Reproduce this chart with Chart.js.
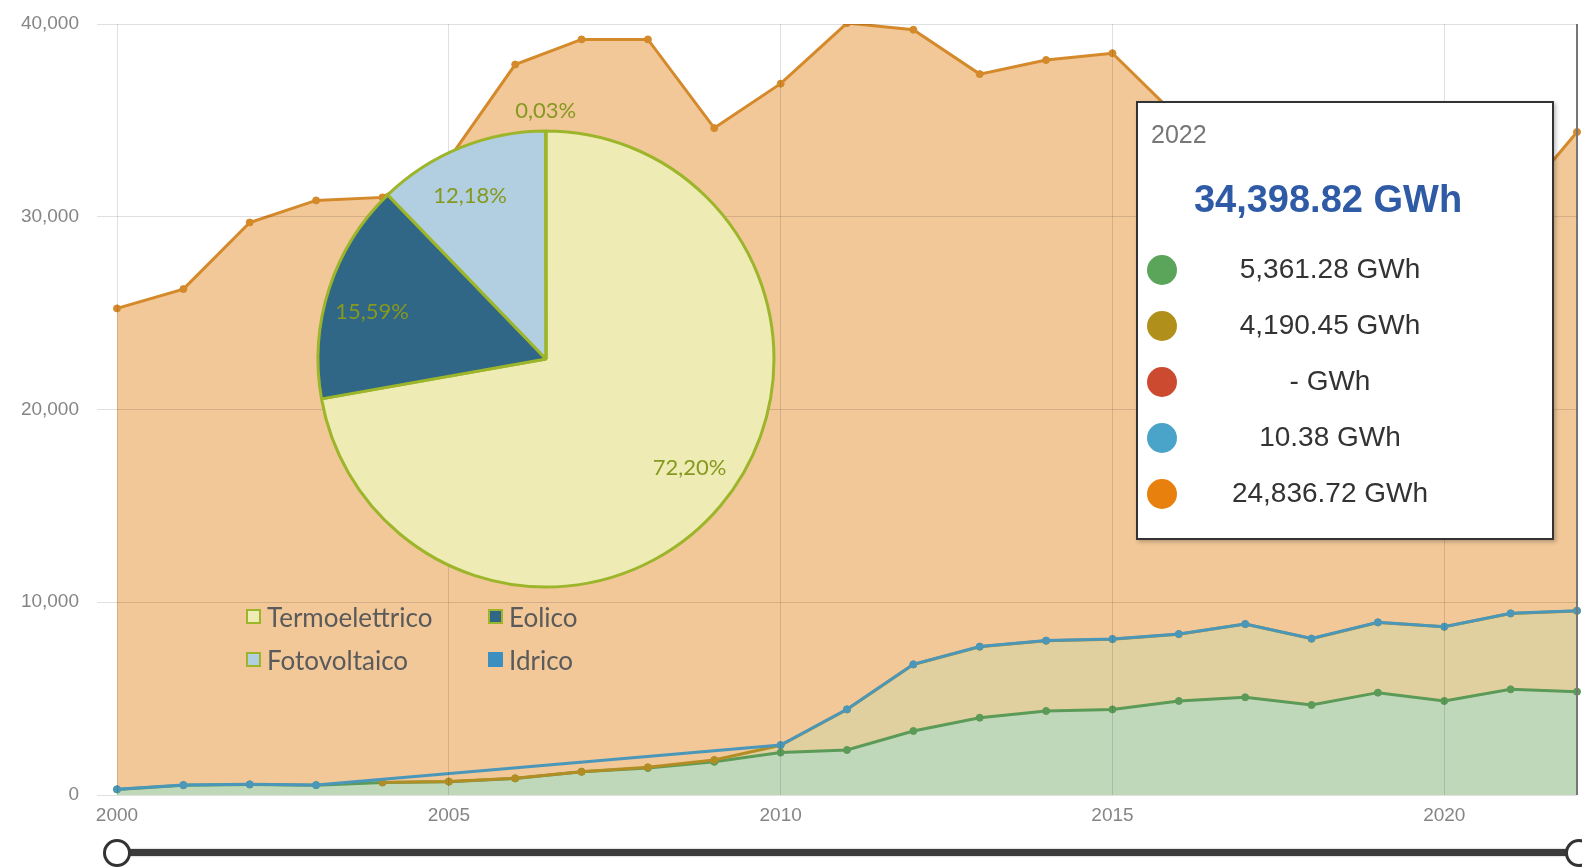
<!DOCTYPE html>
<html>
<head>
<meta charset="utf-8">
<script src="https://cdn.jsdelivr.net/npm/chart.js@4.4.1/dist/chart.umd.min.js"></script>
<style>
  body { margin: 0; background: #fff; overflow: hidden; font-family: "Liberation Sans", Arial, sans-serif; }
  #wrap { position: relative; width: 1582px; height: 868px; }
  #mainBox { position: absolute; left: 0; top: 0; width: 1582px; height: 830px; }
  #pieBox { position: absolute; left: 266px; top: 79px; width: 560px; height: 560px; }
  #pieLegend { position: absolute; left: 246px; top: 595px; display: grid; grid-template-columns: 242px auto; grid-auto-rows: 43px;
               font-family: Lato, "Open Sans", sans-serif; font-size: 26px; color: #5a5a5a; }
  #pieLegend .it { display: flex; align-items: center; }
  #pieLegend .sw { width: 11px; height: 11px; border: 2.5px solid #9cb52a; margin-right: 6px; }
  #tip { position: absolute; left: 1136px; top: 101px; width: 414px; height: 435px; background: #fff;
         border: 2px solid #333; box-shadow: 2px 2px 4px rgba(0,0,0,0.25); }
  #tip .yr { position: absolute; left: 13px; top: 17px; font-size: 25px; line-height: 28px; color: #777; }
  #tip .tot { position: absolute; left: 0; width: 380px; top: 74px; text-align: center; font-size: 38px; line-height: 44px;
              font-weight: bold; color: #2e5aa6; }
  #tip .row { position: absolute; left: 0; width: 384px; height: 40px; }
  #tip .dot { position: absolute; left: 9px; top: 4px; width: 30px; height: 30px; border-radius: 50%; }
  #tip .val { position: absolute; left: 0; width: 384px; text-align: center; top: 2px; font-size: 28px; line-height: 32px; color: #333; }
  #slLine { position: absolute; left: 117px; top: 849px; width: 1462px; height: 7px; background: #3b3b3b;
            box-shadow: 0 0 2px rgba(0,0,0,0.4); }
  .knob { position: absolute; top: 839px; width: 22px; height: 22px; border: 3px solid #333; border-radius: 50%; background: #fff; }
</style>
</head>
<body>
<div id="wrap">
  <div id="mainBox"><canvas id="mainChart"></canvas></div>
  <div id="pieBox"><canvas id="pieChart"></canvas></div>
  <div id="pieLegend"></div>
  <div id="tip"></div>
  <div id="slLine"></div>
  <div class="knob" style="left:103px"></div>
  <div class="knob" style="left:1565px"></div>
</div>
<script>
// Years on the x axis
const years = [2000, 2001, 2002, 2003, 2004, 2005, 2006, 2007, 2008, 2009, 2010, 2011,
               2012, 2013, 2014, 2015, 2016, 2017, 2018, 2019, 2020, 2021, 2022];

// Production by source, GWh (null = no data, shown as "-")
const eolico = [290, 510, 545, 510, 650, 690, 860, 1200, 1400, 1720, 2200, 2335,
                3320, 4010, 4360, 4440, 4880, 5070, 4670, 5310, 4880, 5480, 5361.277];
const fotovoltaico = [null, null, null, null, 5, 5, 8, 12, 40, 100, 380, 2100,
                      3450, 3680, 3640, 3645, 3465, 3795, 3435, 3640, 3845, 3935, 4190.449];
const geotermico = [null, null, null, null, null, null, null, null, null, null, null, null,
                    null, null, null, null, null, null, null, null, null, null, null];
const idrico = [6, 7, 8, 8, null, null, null, null, null, null, 14, 12,
                11, 10, 12, 9, 8, 7, 11, 10, 9, 10, 10.377];
const termoelettrico = [24950, 25730, 29150, 30330, 30350, 32300, 37030, 37990, 37760, 32780, 34310, 35600,
                        32920, 29700, 30120, 30390, 26750, 25730, 25690, 24140, 22870, 20880, 24836.717];

const yTicks = [0, 10000, 20000, 30000, 40000];

// Pie: share of each source in the last year
const pieLabels = ['Termoelettrico', 'Eolico', 'Fotovoltaico', 'Idrico'];
const pieColors = ['#eeecb4', '#306686', '#b1cfe1', '#3d8fc0'];

// Tooltip dots, in stacking order
const tipColors = ['#5aa55a', '#b0901a', '#cc4a30', '#4aa3c8', '#e8800e'];

const last = years.length - 1;
const v0 = v => (v === null ? 0 : v);

// Build the stacked tops from the series
const topEolico = eolico.slice();
const topFoto = years.map((_, i) => fotovoltaico[i] === null ? null : eolico[i] + fotovoltaico[i]);
const topIdrico = years.map((_, i) => idrico[i] === null ? null :
  eolico[i] + v0(fotovoltaico[i]) + v0(geotermico[i]) + idrico[i]);
const topTermo = years.map((_, i) =>
  eolico[i] + v0(fotovoltaico[i]) + v0(geotermico[i]) + v0(idrico[i]) + termoelettrico[i]);

const gridCol = 'rgba(0,0,0,0.12)';

new Chart(document.getElementById('mainChart'), {
  type: 'line',
  data: {
    labels: years.map(String),
    datasets: [
      {
        label: 'Idrico', data: topIdrico, borderColor: '#4b97b9', pointBackgroundColor: '#4b97b9',
        pointBorderColor: '#4b97b9', fill: false, spanGaps: true
      },
      {
        label: 'Fotovoltaico', data: topFoto, borderColor: '#b28d24', pointBackgroundColor: '#b28d24',
        pointBorderColor: '#b28d24', backgroundColor: '#e0d0a0', fill: { target: 2 }
      },
      {
        label: 'Eolico', data: topEolico, borderColor: '#5b9a57', pointBackgroundColor: '#5b9a57',
        pointBorderColor: '#5b9a57', backgroundColor: '#c0d8ba', fill: 'origin'
      },
      {
        label: 'Termoelettrico', data: topTermo, borderColor: '#d4892a', pointBackgroundColor: '#d4892a',
        pointBorderColor: '#d4892a', backgroundColor: '#f2c899', fill: 'origin'
      },
    ],
  },
  options: {
    responsive: true,
    maintainAspectRatio: false,
    animation: false,
    layout: { padding: { top: 24, right: 3, left: 0, bottom: 0 } },
    elements: {
      line: { borderWidth: 3, tension: 0 },
      point: { radius: 3.5, borderWidth: 1 }
    },
    scales: {
      x: {
        type: 'category',
        border: { display: false },
        grid: {
          z: 1,
          drawTicks: false,
          color: ctx => {
            const yr = years[ctx.index];
            if (ctx.index === last) return '#777';
            return yr % 5 === 0 ? gridCol : 'transparent';
          },
          lineWidth: ctx => (ctx.index === last ? 2 : 1)
        },
        ticks: {
          autoSkip: false, maxRotation: 0, padding: 9,
          color: '#858585', font: { size: 19, family: '"Liberation Sans", Arial' },
          callback: (v, i) => (years[i] % 5 === 0 && i !== last ? String(years[i]) : '')
        },
        afterFit: s => { s.height = 35; s.paddingLeft = 0; s.paddingRight = 0; }
      },
      y: {
        min: yTicks[0],
        max: yTicks[yTicks.length - 1],
        border: { display: false },
        grid: { z: 1, color: gridCol, tickLength: 20, tickColor: gridCol },
        afterBuildTicks: s => { s.ticks = yTicks.map(v => ({ value: v })); },
        ticks: {
          padding: 18, color: '#858585', font: { size: 19, family: '"Liberation Sans", Arial' },
          callback: v => v.toLocaleString('en-US')
        },
        afterFit: s => { s.width = 117; s.paddingTop = 0; s.paddingBottom = 0; }
      }
    },
    plugins: {
      legend: { display: false },
      tooltip: { enabled: false },
      filler: { drawTime: 'beforeDatasetsDraw' }
    }
  }
});

// Pie of the last year
const pieValues = [termoelettrico[last], eolico[last], fotovoltaico[last], idrico[last]];
const pieTotal = pieValues.reduce((a, b) => a + b, 0);

const pieLabelPlugin = {
  id: 'pieLabels',
  afterDatasetsDraw(chart) {
    const ctx = chart.ctx;
    const arcs = chart.getDatasetMeta(0).data;
    ctx.save();
    ctx.font = '22px Lato, "Open Sans", sans-serif';
    ctx.fillStyle = '#86991f';
    ctx.textAlign = 'center';
    ctx.textBaseline = 'middle';
    arcs.forEach((arc, i) => {
      const p = arc.getProps(['x', 'y', 'startAngle', 'endAngle', 'outerRadius'], true);
      const share = pieValues[i] / pieTotal;
      // labels sit a little before the middle of the slice, like the original
      const mid = (p.startAngle + p.endAngle) / 2 - (share < 0.01 ? 0 : 0.05);
      const r = share < 0.01 ? p.outerRadius * 1.09 : p.outerRadius * 0.79;
      const txt = (share * 100).toFixed(2).replace('.', ',') + '%';
      ctx.fillText(txt, p.x + Math.cos(mid) * r, p.y + Math.sin(mid) * r);
    });
    ctx.restore();
  }
};

new Chart(document.getElementById('pieChart'), {
  type: 'pie',
  data: {
    labels: pieLabels,
    datasets: [{ data: pieValues, backgroundColor: pieColors, borderColor: '#9cb52a', borderWidth: 3 }]
  },
  options: {
    responsive: true,
    maintainAspectRatio: false,
    animation: false,
    radius: 228,
    layout: { padding: 0 },
    plugins: { legend: { display: false }, tooltip: { enabled: false } }
  },
  plugins: [pieLabelPlugin]
});

// Pie legend (2 columns)
const legendOrder = [0, 1, 2, 3];
document.getElementById('pieLegend').innerHTML = legendOrder.map(i => {
  const brd = pieLabels[i] === 'Idrico' ? 'border-color:' + pieColors[i] : '';
  return '<div class="it"><span class="sw" style="background:' + pieColors[i] + ';' + brd + '"></span>' +
         pieLabels[i] + '</div>';
}).join('');

// Static tooltip for the last year
const fmt = v => (v === null ? '-' : v.toLocaleString('en-US', { minimumFractionDigits: 2, maximumFractionDigits: 2 }));
const tipVals = [eolico[last], fotovoltaico[last], geotermico[last], idrico[last], termoelettrico[last]];
const tipTotal = tipVals.reduce((a, b) => a + v0(b), 0);
let html = '<div class="yr">' + years[last] + '</div>' +
           '<div class="tot">' + fmt(tipTotal) + ' GWh</div>';
tipVals.forEach((v, i) => {
  html += '<div class="row" style="top:' + (148 + i * 56) + 'px"><span class="dot" style="background:' + tipColors[i] +
          '"></span><span class="val">' + fmt(v) + ' GWh</span></div>';
});
document.getElementById('tip').innerHTML = html;
</script>
</body>
</html>
